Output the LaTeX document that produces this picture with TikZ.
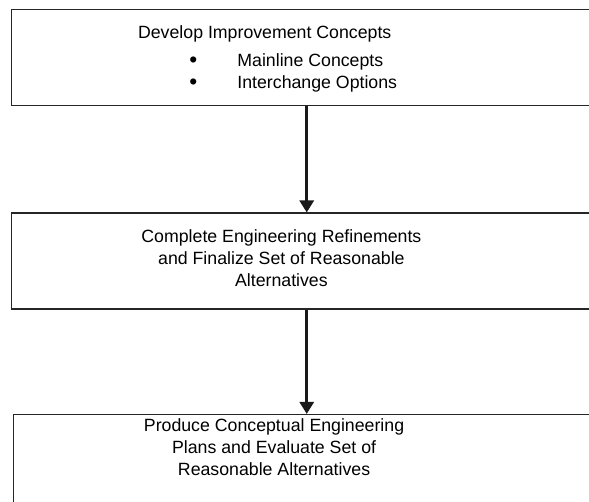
\documentclass[tikz,border=0pt]{standalone}
\usepackage{fontspec}
\setmainfont{Liberation Sans}
\usetikzlibrary{arrows.meta,positioning}

\newcommand{\listdot}{\makebox[37.5pt][l]{\hspace*{1.5pt}\raisebox{-1.2pt}{\fontsize{17pt}{16.5pt}\selectfont\textbullet}}}

\begin{document}
\begin{tikzpicture}[
      x=0.75pt, y=-0.75pt,
      node distance=79.5pt,
      box/.style={draw=black!85, line width=1.1pt, minimum width=442.5pt, minimum height=72pt, inner sep=0pt},
      txt/.style={inner sep=0pt, align=center, font=\fontsize{13.3pt}{16.5pt}\selectfont},
      arr/.style={-{Triangle[width=10.5pt, length=9pt]}, line width=2.2pt, draw=black!90},
    ]
    \useasboundingbox (0,0) rectangle (589,501);
    \clip (0,0) rectangle (589,501);
    \node[box, anchor=north west] (devbox) at (11,9) {};
    \node[box, below=of devbox] (refbox) {};
    \node[box, below=78pt of refbox, xshift=1.5pt] (evalbox) {};
    % box texts sit left of the box centres
    \node[txt, anchor=north] (devtxt) at ([xshift=-31.5pt, yshift=-12pt]devbox.north) {Develop Improvement Concepts};
    \node[txt, anchor=base west, align=left] (devlist) at ([xshift=37pt, yshift=-37.5pt]devtxt.base west)
      {\listdot Mainline Concepts\\\listdot Interchange Options};
    \node[txt, anchor=north] (reftxt) at ([xshift=-19pt, yshift=-12.75pt]refbox.north)
      {Complete Engineering Refinements\\and Finalize Set of Reasonable\\Alternatives};
    \node[txt, anchor=north] (evaltxt) at ([xshift=-26pt, yshift=-3pt]evalbox.north)
      {Produce Conceptual Engineering\\Plans and Evaluate Set of\\Reasonable Alternatives};
    \draw[arr] (devbox) -- (refbox);
    \draw[arr] (refbox.south) -- (refbox.south |- evalbox.north);
  \end{tikzpicture}
\end{document}
